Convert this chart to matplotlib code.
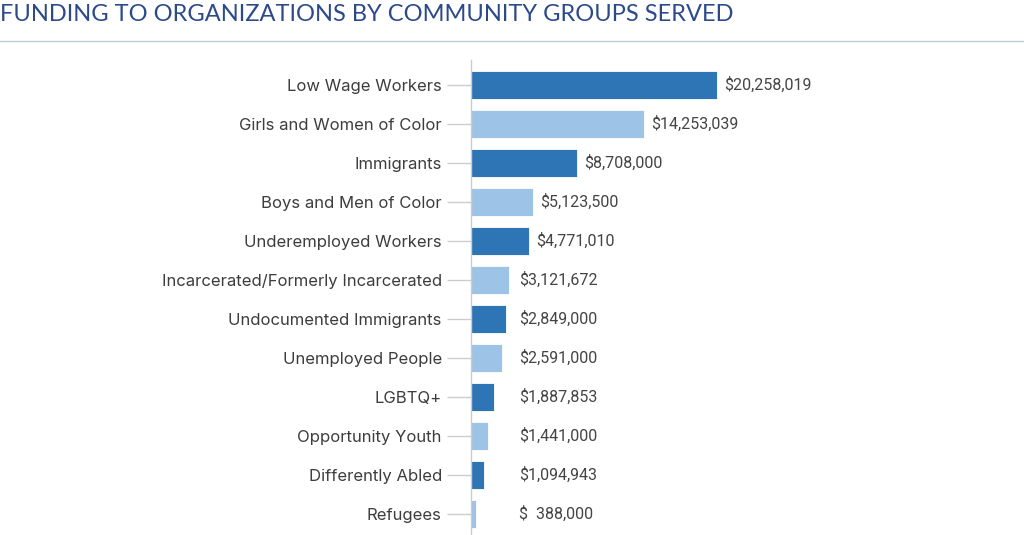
import matplotlib.pyplot as plt
from matplotlib.lines import Line2D

groups = ["Low Wage Workers", "Girls and Women of Color", "Immigrants",
          "Boys and Men of Color", "Underemployed Workers",
          "Incarcerated/Formerly Incarcerated", "Undocumented Immigrants",
          "Unemployed People", "LGBTQ+", "Opportunity Youth",
          "Differently Abled", "Refugees"]
funding = [20258019, 14253039, 8708000, 5123500, 4771010, 3121672,
           2849000, 2591000, 1887853, 1441000, 1094943, 388000]
value_labels = ["$20,258,019", "$14,253,039", "$8,708,000", "$5,123,500",
                "$4,771,010", "$3,121,672", "$2,849,000", "$2,591,000",
                "$1,887,853", "$1,441,000", "$1,094,943", "$  388,000"]

dark = "#2e75b6"
light = "#9dc3e6"
colors = [dark if i % 2 == 0 else light for i in range(len(groups))]

W, H = 1024, 535
fig = plt.figure(figsize=(W / 100, H / 100), dpi=100)

# axes: spine at x=471px, top at y=60px, running off the bottom edge
ax = fig.add_axes([471 / W, 0, 1 - 471 / W, (H - 60) / H])
y = list(range(len(groups)))
ax.barh(y, funding, height=0.72, color=colors, edgecolor="white", linewidth=0.6)

ax.set_xlim(0, 45.6e6)
ax.set_ylim(11.54, -0.641)

for i, v in enumerate(funding):
    ax.text(max(v + 0.6e6, 3.95e6), i, value_labels[i], va="center", ha="left",
            fontsize=11.5, color="#444444",
            family=["Roboto", "DejaVu Sans"])

ax.set_yticks(y)
ax.set_yticklabels(groups, fontsize=12, color="#3d3d3d", family=["Inter", "DejaVu Sans"])
ax.tick_params(axis="y", length=17, width=1, color="#cccccc", pad=4)
ax.set_xticks([])
for s in ["top", "right", "bottom"]:
    ax.spines[s].set_visible(False)
ax.spines["left"].set_color("#cccccc")
ax.spines["left"].set_linewidth(1)

fig.text(0.0, 1 - 4 / H, "FUNDING TO ORGANIZATIONS BY COMMUNITY GROUPS SERVED",
         ha="left", va="top", fontsize=17, color="#2c4a8a",
         family=["Lato", "DejaVu Sans"])
fig.add_artist(Line2D([0, 1], [1 - 41 / H, 1 - 41 / H], transform=fig.transFigure,
                      color="#b8cce0", linewidth=1))

fig.savefig("out.png", dpi=100)
